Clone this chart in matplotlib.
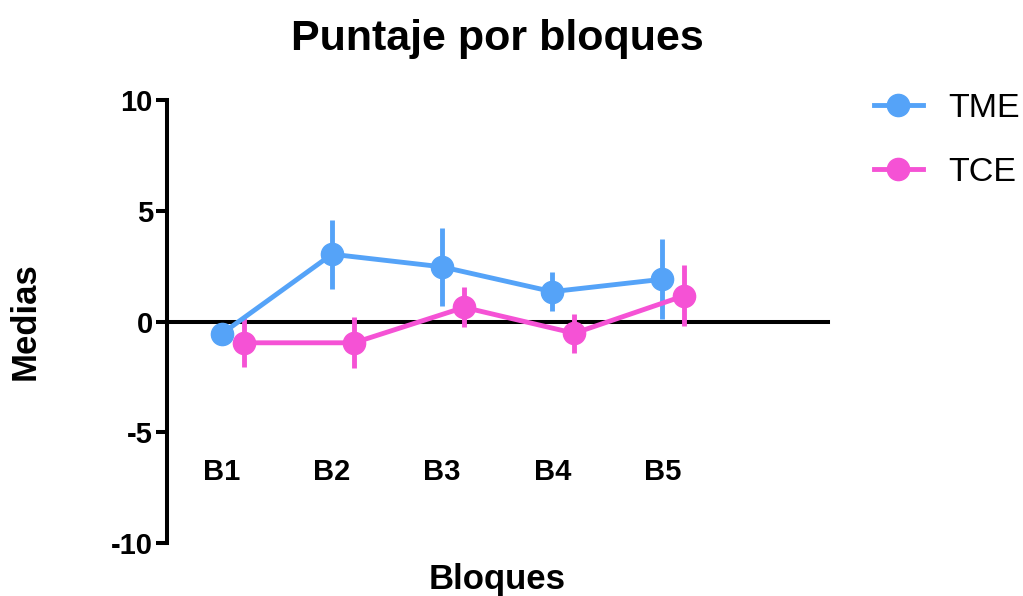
import matplotlib
matplotlib.use("Agg")
import matplotlib.pyplot as plt
import numpy as np

plt.rcParams['font.family'] = ['Liberation Sans', 'DejaVu Sans']
plt.rcParams['axes.unicode_minus'] = False

# Medias y errores por bloque
bloques = ["B1", "B2", "B3", "B4", "B5"]
tme_media = [-0.55, 3.04, 2.47, 1.35, 1.91]
tme_error = [0.30, 1.56, 1.76, 0.88, 1.80]
tce_media = [-0.96, -0.96, 0.64, -0.53, 1.17]
tce_error = [1.10, 1.15, 0.90, 0.87, 1.37]

azul = "#55A3F8"
rosa = "#F552D5"

fig = plt.figure(figsize=(10.23, 5.96), dpi=100)
ax = fig.add_axes([0.163, 0.089, 0.646, 0.743])

x = np.arange(1, len(bloques) + 1)
desplazamiento = 0.2

series = [
    ("TME", x, tme_media, tme_error, azul),
    ("TCE", x + desplazamiento, tce_media, tce_error, rosa),
]
for nombre, xs, medias, errores, color in series:
    ax.errorbar(xs, medias, yerr=errores, fmt='none', ecolor=color,
                elinewidth=3.5, capsize=0, zorder=3)
    ax.plot(xs, medias, color=color, lw=3.5, marker='o', markersize=16,
            label=nombre, zorder=4)

ax.set_xlim(0.5, 6.5)
ax.set_ylim(-10, 10)
ax.set_yticks([-10, -5, 0, 5, 10])

# eje x cruzando en cero
for lado in ["top", "right"]:
    ax.spines[lado].set_visible(False)
ax.spines["bottom"].set_position(("data", 0))
ax.spines["bottom"].set_linewidth(2.9)
ax.spines["left"].set_linewidth(2.9)
ax.spines["left"].set_bounds(-10, 10)

ax.set_xticks(x)
ax.set_xticklabels(bloques, fontsize=21, fontweight='bold')
ax.tick_params(axis='x', length=0, pad=98)
ax.tick_params(axis='y', length=8, width=2.9, labelsize=21, pad=2)
for t in ax.get_yticklabels():
    t.set_fontweight('bold')

ax.set_title("Puntaje por bloques", fontsize=31, fontweight='bold', pad=36)
ax.set_xlabel("Bloques", fontsize=25, fontweight='bold')
ax.xaxis.set_label_coords(0.5, -0.045)
ax.set_ylabel("Medias", fontsize=25, fontweight='bold')
ax.yaxis.set_label_coords(-0.19, 0.5)

ax.legend(loc='upper left', bbox_to_anchor=(0.824, 0.895),
          bbox_transform=fig.transFigure, frameon=False, fontsize=24.5,
          handlelength=1.45, handletextpad=0.75, labelspacing=0.95)

fig.savefig("out.png", dpi=100)
